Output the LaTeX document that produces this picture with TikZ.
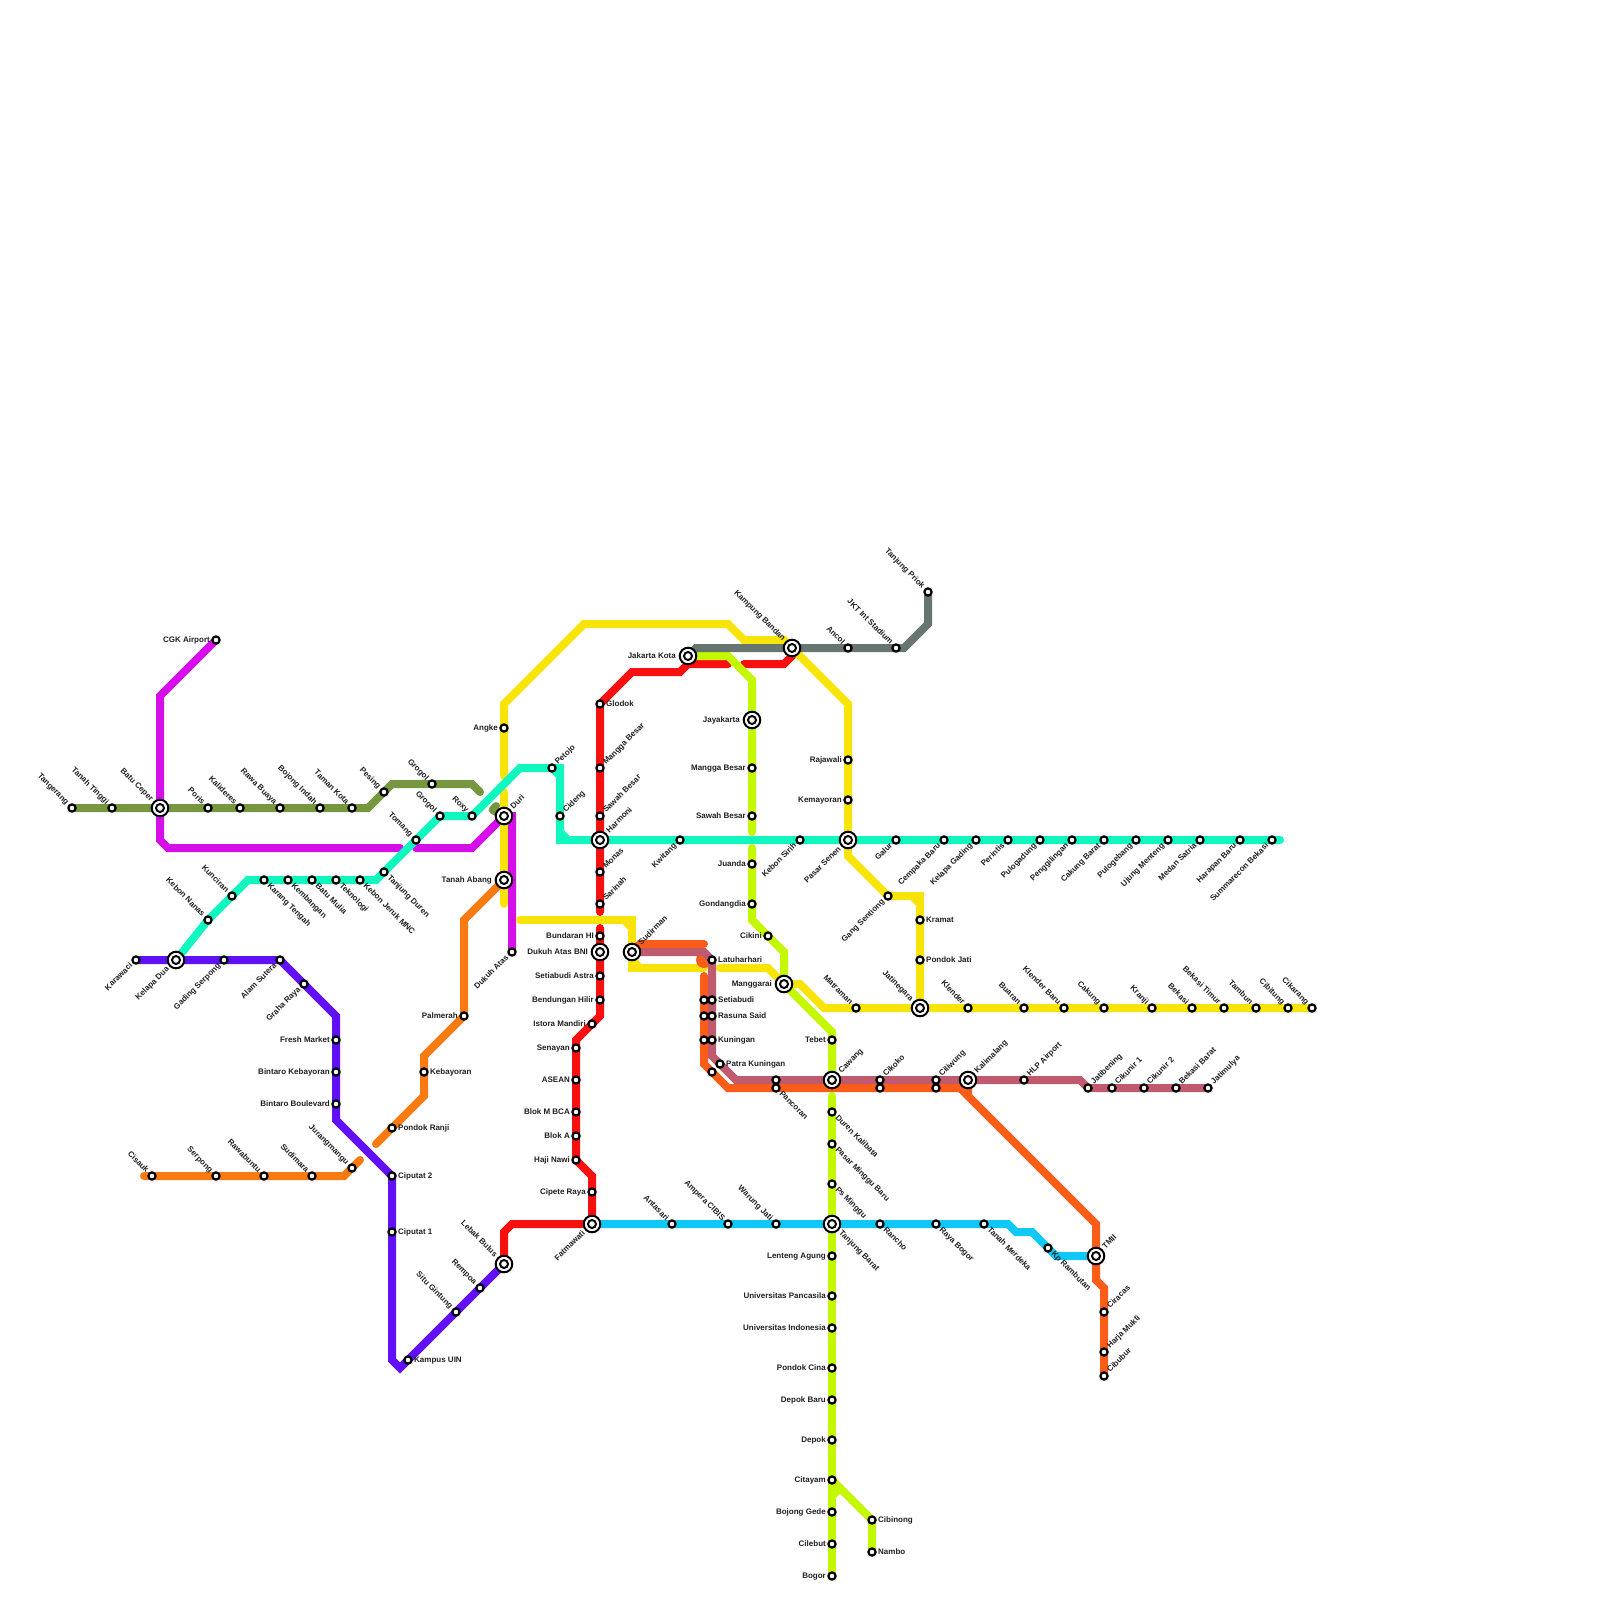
\documentclass[tikz,border=0pt]{standalone}
\usepackage{fontspec}
\setmainfont{Liberation Sans}
\pgfdeclarelayer{lines}
\pgfsetlayers{lines,main}
\definecolor{cOlive}{HTML}{76963F}
\definecolor{cMag}{HTML}{D40FE8}
\definecolor{cTeal}{HTML}{10F8C0}
\definecolor{cInd}{HTML}{6010F5}
\definecolor{cOra}{HTML}{F97A10}
\definecolor{cRed}{HTML}{F81010}
\definecolor{cYel}{HTML}{F8E408}
\definecolor{cLime}{HTML}{C4F800}
\definecolor{cRor}{HTML}{FA5C1A}
\definecolor{cMau}{HTML}{C05A6E}
\definecolor{cCya}{HTML}{10C8F8}
\definecolor{cGra}{HTML}{667570}
\tikzset{
 x=1pt,y=-1pt,
 ln/.style={line width=8pt,line cap=round,line join=miter},
 stn/.style={circle,draw=black,fill=white,line width=2.2pt,minimum size=7.2pt,inner sep=0pt,outer sep=0pt},
 hub/.style={circle,draw=black,fill=white,line width=2pt,minimum size=16.6pt,inner sep=0pt,outer sep=0pt},
 hubin/.style={circle,draw=black,fill=white,line width=2pt,minimum size=8pt,inner sep=0pt,outer sep=0pt},
 txt/.style={inner sep=0pt,text height=6pt,text depth=1.6pt,font=\fontsize{8}{9}\selectfont\bfseries,text=black!88},
 tL/.style={txt,anchor=east,xshift=-6pt},
 tR/.style={txt,anchor=west,xshift=6pt},
 tUL/.style={txt,xshift=-4.5pt,yshift=4.5pt,rotate=-45,anchor=east},
 tDL/.style={txt,xshift=-4.5pt,yshift=-4.5pt,rotate=45,anchor=east},
 tUR/.style={txt,xshift=4.5pt,yshift=4.5pt,rotate=45,anchor=west},
 tDR/.style={txt,xshift=4.5pt,yshift=-4.5pt,rotate=-45,anchor=west},
 hL/.style={txt,anchor=east,xshift=-12pt},
 hUL/.style={txt,xshift=-8pt,yshift=8pt,rotate=-45,anchor=east},
 hDL/.style={txt,xshift=-8pt,yshift=-8pt,rotate=45,anchor=east},
 hUR/.style={txt,xshift=8pt,yshift=8pt,rotate=45,anchor=west},
 hDR/.style={txt,xshift=8pt,yshift=-8pt,rotate=-45,anchor=west},
}
\newcommand\st[4]{\node[stn] (#1) at (#2) {}; \node[t#3] (#1-t) at (#1.center) {#4};}
\newcommand\hb[4]{\node[hub] (#1) at (#2) {}; \node[hubin] (#1-i) at (#1.center) {}; \node[h#3] (#1-t) at (#1.center) {#4};}
\newcommand\us[2]{\node[stn] (#1) at (#2) {};}
\begin{document}
\begin{tikzpicture}
\useasboundingbox (0,0) rectangle (1600,1600);
% olive
\st{tng}{72,808}{UL}{Tangerang}
\st{ttg}{112,808}{UL}{Tanah Tinggi}
\hb{bcp}{160,808}{UL}{Batu Ceper}
\st{por}{208,808}{UL}{Poris}
\st{kld}{240,808}{UL}{Kalideres}
\st{rwb}{280,808}{UL}{Rawa Buaya}
\st{bji}{320,808}{UL}{Bojong Indah}
\st{tmk}{352,808}{UL}{Taman Kota}
\st{pes}{384,792}{UL}{Pesing}
\st{grg}{432,784}{UL}{Grogol}
% magenta
\st{cgk}{216,640}{L}{CGK Airport}
\hb{dur}{504,816}{UR}{Duri}
\hb{tab}{504,880}{L}{Tanah Abang}
\st{dka}{512,952}{DL}{Dukuh Atas}
% teal
\hb{kld2}{176,960}{DL}{Kelapa Dua}
\st{kbn}{208,920}{UL}{Kebon Nanas}
\st{kun}{232,896}{UL}{Kunciran}
\st{krt}{264,880}{DR}{Karang Tengah}
\st{kmb}{288,880}{DR}{Kembangan}
\st{btm}{312,880}{DR}{Batu Mulia}
\st{tek}{336,880}{DR}{Teknologi}
\st{kjm}{360,880}{DR}{Kebon Jeruk MNC}
\st{tjd}{384,872}{DR}{Tanjung Duren}
\st{tom}{416,840}{UL}{Tomang}
\st{grb}{440,816}{UL}{Grogol}
\st{rox}{472,816}{UL}{Roxy}
\st{pet}{552,768}{UR}{Petojo}
\st{cid}{560,816}{UR}{Cideng}
\hb{har}{600,840}{UR}{Harmoni}
\st{kwi}{680,840}{DL}{Kwitang}
\st{kbs}{800,840}{DL}{Kebon Sirih}
\hb{psn}{848,840}{DL}{Pasar Senen}
\st{gal}{896,840}{DL}{Galur}
\st{cpb}{944,840}{DL}{Cempaka Baru}
\st{klg}{976,840}{DL}{Kelapa Gading}
\st{per}{1008,840}{DL}{Perintis}
\st{plg}{1040,840}{DL}{Pulogadung}
\st{pgl}{1072,840}{DL}{Penggilingan}
\st{ckb}{1104,840}{DL}{Cakung Barat}
\st{plb}{1136,840}{DL}{Pulogebang}
\st{ujm}{1168,840}{DL}{Ujung Menteng}
\st{mds}{1200,840}{DL}{Medan Satria}
\st{hrb}{1240,840}{DL}{Harapan Baru}
\st{smb}{1272,840}{DL}{Summarecon Bekasi}
% red
\st{glo}{600,704}{R}{Glodok}
\st{mgb}{600,768}{UR}{Mangga Besar}
\st{swb}{600,816}{UR}{Sawah Besar}
\st{mon}{600,872}{UR}{Monas}
\st{sar}{600,904}{UR}{Sarinah}
\st{bhi}{600,936}{L}{Bundaran HI}
\hb{dab}{600,952}{L}{Dukuh Atas BNI}
\st{sta}{600,976}{L}{Setiabudi Astra}
\st{bhl}{600,1000}{L}{Bendungan Hilir}
\st{ism}{592,1024}{L}{Istora Mandiri}
\st{sen}{576,1048}{L}{Senayan}
\st{ase}{576,1080}{L}{ASEAN}
\st{blm}{576,1112}{L}{Blok M BCA}
\st{bla}{576,1136}{L}{Blok A}
\st{hjn}{576,1160}{L}{Haji Nawi}
\st{cpr}{592,1192}{L}{Cipete Raya}
\hb{fat}{592,1224}{DL}{Fatmawati}
\hb{lbb}{504,1264}{UL}{Lebak Bulus}
% yellow
\st{ang}{504,728}{L}{Angke}
\hb{jkt}{688,656}{L}{Jakarta Kota}
\hb{kpb}{792,648}{UL}{Kampung Bandan}
\st{raj}{848,760}{L}{Rajawali}
\st{kem}{848,800}{L}{Kemayoran}
\st{gns}{888,896}{DL}{Gang Sentiong}
\st{kra}{920,920}{R}{Kramat}
\st{poj}{920,960}{R}{Pondok Jati}
\hb{jtn}{920,1008}{UL}{Jatinegara}
\st{mat}{856,1008}{UL}{Matraman}
\st{kln}{968,1008}{UL}{Klender}
\st{bua}{1024,1008}{UL}{Buaran}
\st{klb}{1064,1008}{UL}{Klender Baru}
\st{cak}{1104,1008}{UL}{Cakung}
\st{krj}{1152,1008}{UL}{Kranji}
\st{bks}{1192,1008}{UL}{Bekasi}
\st{bkt}{1224,1008}{UL}{Bekasi Timur}
\st{tam}{1256,1008}{UL}{Tambun}
\st{cib}{1288,1008}{UL}{Cibitung}
\st{ckr}{1312,1008}{UL}{Cikarang}
% lime
\hb{jay}{752,720}{L}{Jayakarta}
\st{mgl}{752,768}{L}{Mangga Besar}
\st{swl}{752,816}{L}{Sawah Besar}
\st{jua}{752,864}{L}{Juanda}
\st{gon}{752,904}{L}{Gondangdia}
\st{cik}{768,936}{L}{Cikini}
\hb{mgr}{784,984}{L}{Manggarai}
\st{teb}{832,1040}{L}{Tebet}
\hb{caw}{832,1080}{UR}{Cawang}
\st{dkl}{832,1112}{DR}{Duren Kalibata}
\st{pmb}{832,1144}{DR}{Pasar Minggu Baru}
\st{psm}{832,1184}{DR}{Ps Minggu}
\hb{tjb}{832,1224}{DR}{Tanjung Barat}
\st{lag}{832,1256}{L}{Lenteng Agung}
\st{upc}{832,1296}{L}{Universitas Pancasila}
\st{uin}{832,1328}{L}{Universitas Indonesia}
\st{pdc}{832,1368}{L}{Pondok Cina}
\st{dpb}{832,1400}{L}{Depok Baru}
\st{dpk}{832,1440}{L}{Depok}
\st{cty}{832,1480}{L}{Citayam}
\st{bjg}{832,1512}{L}{Bojong Gede}
\st{clb}{832,1544}{L}{Cilebut}
\st{bgr}{832,1576}{L}{Bogor}
\st{cbn}{872,1520}{R}{Cibinong}
\st{nmb}{872,1552}{R}{Nambo}
% grey
\st{anc}{848,648}{UL}{Ancol}
\st{jis}{896,648}{UL}{JKT Int Stadium}
\st{tpk}{928,592}{UL}{Tanjung Priok}
% mauve
\hb{sud}{632,952}{UR}{Sudirman}
\st{ltu}{712,960}{R}{Latuharhari}
\st{stb}{712,1000}{R}{Setiabudi}
\st{rsn}{712,1016}{R}{Rasuna Said}
\st{kng}{712,1040}{R}{Kuningan}
\st{ptk}{720,1064}{R}{Patra Kuningan}
\us{pcu}{776,1080}
\st{cku}{880,1080}{UR}{Cikoko}
\st{clw}{936,1080}{UR}{Ciliwung}
\hb{klm}{968,1080}{UR}{Kalimalang}
\st{hlp}{1024,1080}{UR}{HLP Airport}
\st{jtb}{1088,1088}{UR}{Jatibening}
\st{ck1}{1112,1088}{UR}{Cikunir 1}
\st{ck2}{1144,1088}{UR}{Cikunir 2}
\st{bkb}{1176,1088}{UR}{Bekasi Barat}
\st{jtm}{1208,1088}{UR}{Jatimulya}
% red-orange
\us{o1}{704,1000}
\us{o2}{704,1016}
\us{o3}{704,1040}
\us{o4}{712,1072}
\st{pcl}{776,1088}{DR}{Pancoran}
\us{ckl}{880,1088}
\us{cwl}{936,1088}
\hb{tmi}{1096,1256}{UR}{TMII}
\st{crc}{1104,1312}{UR}{Ciracas}
\st{hjm}{1104,1352}{UR}{Harja Mukti}
\st{cbb}{1104,1376}{UR}{Cibubur}
% cyan
\st{ant}{672,1224}{UL}{Antasari}
\st{amp}{728,1224}{UL}{Ampera CIBIS}
\st{wrj}{776,1224}{UL}{Warung Jati}
\st{rnc}{880,1224}{DR}{Rancho}
\st{ryb}{936,1224}{DR}{Raya Bogor}
\st{tnm}{984,1224}{DR}{Tanah Merdeka}
\st{kpr}{1048,1248}{DR}{Kp Rambutan}
% orange
\st{cis}{152,1176}{UL}{Cisauk}
\st{ser}{216,1176}{UL}{Serpong}
\st{rwu}{264,1176}{UL}{Rawabuntu}
\st{sdm}{312,1176}{UL}{Sudimara}
\st{jrm}{352,1168}{UL}{Jurangmangu}
\st{pdr}{392,1128}{R}{Pondok Ranji}
\st{kby}{424,1072}{R}{Kebayoran}
\st{plm}{464,1016}{L}{Palmerah}
% indigo
\st{krw}{136,960}{DL}{Karawaci}
\st{gds}{224,960}{DL}{Gading Serpong}
\st{als}{280,960}{DL}{Alam Sutera}
\st{grr}{304,984}{DL}{Graha Raya}
\st{frm}{336,1040}{L}{Fresh Market}
\st{bnk}{336,1072}{L}{Bintaro Kebayoran}
\st{bnb}{336,1104}{L}{Bintaro Boulevard}
\st{cp2}{392,1176}{R}{Ciputat 2}
\st{cp1}{392,1232}{R}{Ciputat 1}
\st{uin2}{408,1360}{R}{Kampus UIN}
\st{stg}{456,1312}{UL}{Situ Gintung}
\st{rmp}{480,1288}{UL}{Rempoa}
\begin{pgfonlayer}{lines}
% magenta
\draw[ln,cMag] (cgk.center) -- (160,696) -- (bcp.center) -- (160,840) -- (168,848) -- (400,848);
\draw[ln,cMag] (416,848) -- (472,848) -- (dur.center) -- (512,816) -- (dka.center);
% olive
\draw[ln,cOlive] (tng.center) -- (ttg.center) -- (bcp.center) -- (por.center) -- (kld.center) -- (rwb.center) -- (bji.center) -- (tmk.center) -- (368,808) -- (pes.center) -- (392,784) -- (grg.center) -- (472,784) -- (480,792);
\draw[ln,cOlive,line join=round] (496,806) -- (492.5,810) -- (dur.center);
% indigo
\draw[ln,cInd] (krw.center) -- (kld2.center) -- (gds.center) -- (als.center) -- (grr.center) -- (336,1016) -- (frm.center) -- (bnk.center) -- (bnb.center) -- (336,1120) -- (cp2.center) -- (cp1.center) -- (392,1360) -- (400,1368) -- (uin2.center) -- (stg.center) -- (rmp.center) -- (lbb.center);
% orange
\draw[ln,cOra] (144,1176) -- (cis.center) -- (ser.center) -- (rwu.center) -- (sdm.center) -- (344,1176) -- (jrm.center) -- (360,1160);
\draw[ln,cOra] (376,1144) -- (pdr.center) -- (424,1096) -- (kby.center) -- (424,1056) -- (plm.center);
\draw[ln,cOra] (plm.center) -- (464,920) -- (tab.center);
% red
\draw[ln,cRed] (728,664) -- (688,664) -- (680,672) -- (632,672) -- (glo.center) -- (mgb.center) -- (swb.center) -- (har.center) -- (mon.center) -- (sar.center) -- (600,912);
\draw[ln,cRed] (744,664) -- (784,664) -- (792,656) -- (kpb.center);
\draw[ln,cRed] (600,928) -- (bhi.center) -- (dab.center) -- (sta.center) -- (bhl.center) -- (600,1016) -- (ism.center) -- (576,1040) -- (sen.center) -- (ase.center) -- (blm.center) -- (bla.center) -- (hjn.center) -- (592,1176) -- (cpr.center) -- (fat.center) -- (512,1224) -- (504,1232) -- (lbb.center);
% yellow
\draw[ln,cYel] (504,776) -- (ang.center) -- (504,704) -- (584,624) -- (728,624) -- (744,640) -- (784,640) -- (kpb.center) -- (848,704) -- (raj.center) -- (kem.center) -- (psn.center) -- (848,856) -- (gns.center) -- (920,896) -- (kra.center) -- (poj.center) -- (jtn.center);
\draw[ln,cYel] (504,792) -- (dur.center) -- (tab.center) -- (504,904);
\draw[ln,cYel] (520,920) -- (632,920) -- (sud.center) -- (632,968) -- (704,968);
\draw[ln,cYel] (624,920) -- (632,928);
\draw[ln,cYel] (632,960) -- (640,968);
\draw[ln,cYel] (720,968) -- (768,968) -- (mgr.center) -- (800,984) -- (824,1008) -- (mat.center) -- (jtn.center) -- (kln.center) -- (bua.center) -- (klb.center) -- (cak.center) -- (krj.center) -- (bks.center) -- (bkt.center) -- (tam.center) -- (cib.center) -- (ckr.center);
\draw[ln,cYel] (912,896) -- (920,904);
% teal
\draw[ln,cTeal] (kld2.center) -- (kbn.center) -- (kun.center) -- (248,880) -- (krt.center) -- (kmb.center) -- (btm.center) -- (tek.center) -- (kjm.center) -- (376,880) -- (tjd.center) -- (tom.center) -- (grb.center) -- (rox.center) -- (520,768) -- (pet.center) -- (560,768) -- (cid.center) -- (560,840) -- (har.center) -- (kwi.center) -- (kbs.center) -- (psn.center) -- (gal.center) -- (cpb.center) -- (klg.center) -- (per.center) -- (plg.center) -- (pgl.center) -- (ckb.center) -- (plb.center) -- (ujm.center) -- (mds.center) -- (hrb.center) -- (smb.center) -- (1280,840);
\draw[ln,cTeal] (552,768) -- (560,776);
\draw[ln,cTeal] (560,832) -- (568,840);
% lime
\draw[ln,cLime] (jkt.center) -- (728,656) -- (752,680) -- (jay.center) -- (mgl.center) -- (swl.center) -- (752,832);
\draw[ln,cLime] (752,848) -- (jua.center) -- (gon.center) -- (752,920) -- (cik.center) -- (784,952) -- (mgr.center) -- (832,1032) -- (teb.center) -- (caw.center);
\draw[ln,cLime] (832,1096) -- (dkl.center) -- (pmb.center) -- (psm.center) -- (tjb.center) -- (lag.center) -- (upc.center) -- (uin.center) -- (pdc.center) -- (dpb.center) -- (dpk.center) -- (cty.center) -- (bjg.center) -- (clb.center) -- (bgr.center);
\draw[ln,cLime] (cty.center) -- (cbn.center) -- (nmb.center);
\draw[ln,cLime] (832,1496) -- (840,1488);
% grey
\draw[ln,cGra] (jkt.center) -- (696,648) -- (kpb.center) -- (anc.center) -- (jis.center) -- (904,648) -- (928,624) -- (tpk.center);
% cyan
\draw[ln,cCya] (fat.center) -- (ant.center) -- (amp.center) -- (wrj.center) -- (tjb.center) -- (rnc.center) -- (ryb.center) -- (tnm.center) -- (1008,1224) -- (1016,1232) -- (1032,1232) -- (kpr.center) -- (1056,1256) -- (tmi.center);
% red-orange
\fill[cRor] (704,960) circle (8pt);
\draw[ln,cRor] (sud.center) -- (640,944) -- (704,944);
\draw[ln,cRor] (704,976) -- (o1.center) -- (o2.center) -- (o3.center) -- (704,1064) -- (o4.center) -- (728,1088) -- (pcl.center) -- (ckl.center) -- (cwl.center) -- (968,1088) -- (968,1096) -- (1096,1224) -- (tmi.center) -- (1096,1280) -- (1104,1288) -- (crc.center) -- (hjm.center) -- (cbb.center);
\draw[ln,cRor] (960,1088) -- (968,1096);
% mauve
\draw[ln,cMau] (sud.center) -- (704,952) -- (ltu.center) -- (stb.center) -- (rsn.center) -- (kng.center) -- (712,1056) -- (ptk.center) -- (736,1080) -- (pcu.center) -- (caw.center) -- (cku.center) -- (clw.center) -- (klm.center) -- (hlp.center) -- (1080,1080) -- (jtb.center) -- (ck1.center) -- (ck2.center) -- (bkb.center) -- (jtm.center);
\end{pgfonlayer}
\end{tikzpicture}
\end{document}
